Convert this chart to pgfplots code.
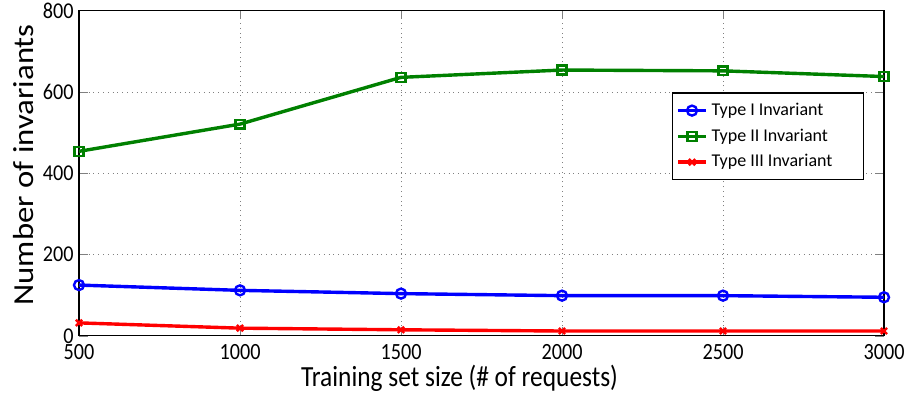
\documentclass[border=0pt]{standalone}
\usepackage{pgfplots}
\pgfplotsset{compat=1.18}
\usepackage{graphicx}
\usepackage{fontspec}
\setmainfont{Carlito}
\begin{document}
\begin{tikzpicture}
\begin{axis}[
  name=main,
  scale only axis,
  width=402.5pt, height=162.6pt,
  xmin=500, xmax=3000, ymin=0, ymax=800,
  xtick={500,1000,1500,2000,2500,3000},
  ytick={0,200,400,600,800},
  /pgf/number format/assume math mode=true,
  /pgf/number format/1000 sep={},
  xticklabel={\scalebox{1}[1.15]{\pgfmathprintnumber{\tick}}},
  yticklabel={\scalebox{1}[1.12]{\pgfmathprintnumber{\tick}}},
  tick label style={font=\fontsize{10.1}{12}\selectfont},
  xticklabel style={anchor=base, yshift=-12pt},
  yticklabel style={anchor=east, inner xsep=0pt, xshift=-2.5pt},
  xlabel={\scalebox{1}[1.15]{Training set size (\# of requests)}},
  ylabel={\scalebox{1.13}[1]{Number of invariants}},
  xlabel style={font=\fontsize{12.7}{14}\selectfont, at={(axis description cs:0.4727,0)}, anchor=base, yshift=-25.35pt},
  ylabel style={font=\fontsize{14.5}{16}\selectfont, at={(axis description cs:-0.0571,0.526)}, anchor=base, rotate=0},
  grid=major,
  major grid style={dotted, gray, line width=0.4pt},
  axis line style={line width=0.6pt},
  tick align=inside,
  legend style={at={(0.7363,0.749)}, anchor=north west, font=\fontsize{9}{11}\selectfont, draw=black, line width=0.6pt, row sep=1.2pt, inner xsep=2pt, inner ysep=3pt},
  legend cell align=left,
  legend image code/.code={\draw[mark repeat=2,mark phase=2,#1] plot coordinates {(0pt,0pt)(7pt,0pt)(14pt,0pt)};},
]
\addplot[blue, line width=1.7pt, mark=o, mark size=2.5pt, mark options={line width=1.2pt}] coordinates {
(500,125) (1000,112) (1500,104) (2000,99) (2500,99) (3000,95)};
\addlegendentry{\makebox[72pt][l]{Type I Invariant}}
\addplot[green!50!black, line width=1.7pt, mark=square, mark size=2.2pt, mark options={line width=1.2pt}] coordinates {
(500,454) (1000,521) (1500,636) (2000,654) (2500,652) (3000,638)};
\addlegendentry{\makebox[72pt][l]{Type II Invariant}}
\addplot[red, line width=1.7pt, mark=x, mark size=2.2pt, mark options={line width=1.2pt}] coordinates {
(500,32) (1000,19) (1500,15) (2000,12) (2500,12) (3000,12)};
\addlegendentry{\makebox[72pt][l]{Type III Invariant}}
\end{axis}
\pgfresetboundingbox
\path ([xshift=-39.5pt,yshift=-31pt]main.south west) rectangle ([xshift=12pt,yshift=5.35pt]main.north east);
\end{tikzpicture}
\end{document}
